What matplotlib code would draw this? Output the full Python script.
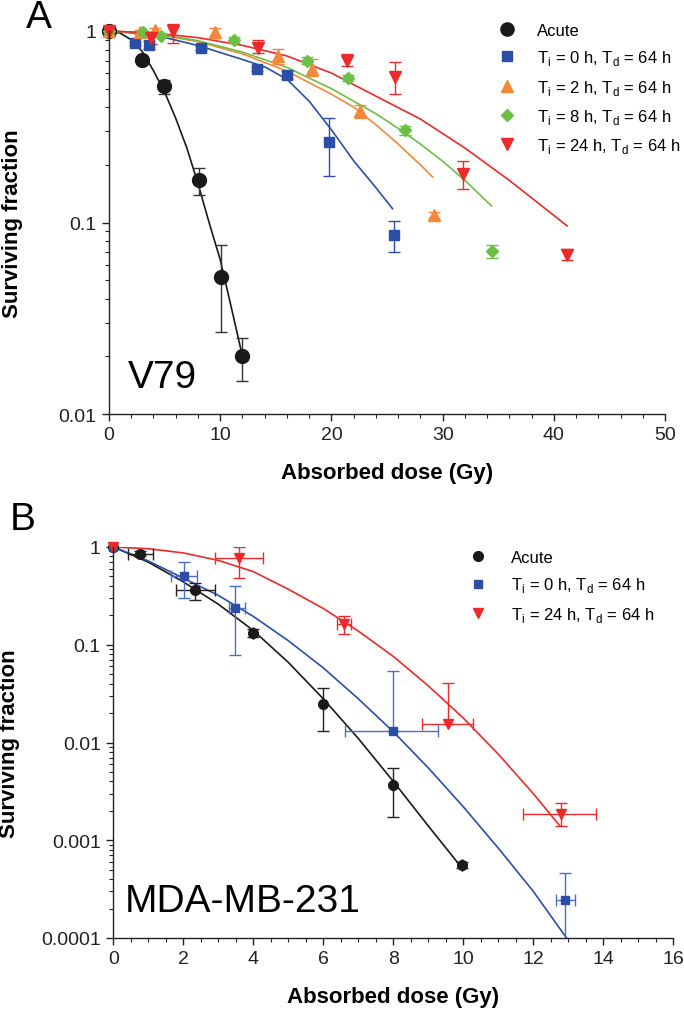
import matplotlib
matplotlib.use("Agg")
import matplotlib.pyplot as plt
from matplotlib.ticker import MultipleLocator, LogLocator, NullFormatter
from matplotlib.lines import Line2D

plt.rcParams['font.family'] = ['Liberation Sans', 'DejaVu Sans']
plt.rcParams['mathtext.fontset'] = 'custom'
plt.rcParams['mathtext.rm'] = 'Liberation Sans'

# colours
BLACK = '#1a1a1a'
BLUE = '#2b4fa6'
ORANGE = '#f4883a'
GREEN = '#6cbf45'
RED = '#ec2a2a'

# ---------- panel A (V79) data ----------
a_acute_dose = [0, 2.95, 4.97, 8.06, 10.04, 12.0]
a_acute_sf = [1.0, 0.706, 0.518, 0.167, 0.052, 0.020]
a_acute_lo = [1.0, 0.68, 0.47, 0.139, 0.0267, 0.0149]
a_acute_hi = [1.0, 0.73, 0.557, 0.193, 0.076, 0.0249]

a_t0_dose = [0, 2.34, 3.6, 8.3, 13.3, 16.0, 19.8, 25.6]
a_t0_sf = [1.0, 0.866, 0.848, 0.815, 0.63, 0.59, 0.262, 0.086]
a_t0_lo = [1.0, 0.85, 0.81, 0.80, 0.615, 0.56, 0.174, 0.070]
a_t0_hi = [1.0, 0.88, 0.89, 0.83, 0.645, 0.62, 0.35, 0.102]

a_t2_dose = [0, 2.8, 4.1, 9.5, 15.2, 18.3, 22.6, 29.2]
a_t2_sf = [1.0, 0.99, 1.01, 0.985, 0.74, 0.63, 0.38, 0.109]
a_t2_lo = [1.0, 0.97, 0.98, 0.92, 0.67, 0.585, 0.35, 0.105]
a_t2_hi = [1.0, 1.01, 1.04, 1.04, 0.81, 0.71, 0.41, 0.113]

a_t8_dose = [0, 3.1, 4.7, 11.2, 17.8, 21.5, 26.6, 34.4]
a_t8_sf = [1.0, 0.985, 0.945, 0.90, 0.70, 0.57, 0.304, 0.071]
a_t8_lo = [1.0, 0.97, 0.93, 0.87, 0.67, 0.55, 0.285, 0.065]
a_t8_hi = [1.0, 1.0, 0.96, 0.93, 0.73, 0.59, 0.32, 0.076]

a_t24_dose = [0, 3.8, 5.8, 13.4, 21.4, 25.7, 31.8, 41.2]
a_t24_sf = [1.0, 0.915, 1.0, 0.82, 0.70, 0.573, 0.179, 0.068]
a_t24_lo = [1.0, 0.86, 0.87, 0.77, 0.66, 0.47, 0.15, 0.064]
a_t24_hi = [1.0, 0.96, 1.09, 0.90, 0.76, 0.69, 0.21, 0.073]

# fitted curves
a_acute_fit_d = [0, 1, 2, 3, 4, 5, 6, 7, 8, 9, 10, 11, 12]
a_acute_fit_sf = [1, 0.975, 0.90, 0.78, 0.62, 0.48, 0.35, 0.245, 0.16, 0.10, 0.064, 0.036, 0.020]
a_t0_fit_d = [0, 4, 8, 12, 14, 16, 18, 20, 22, 24, 25.5]
a_t0_fit_sf = [1, 0.955, 0.84, 0.71, 0.65, 0.56, 0.43, 0.305, 0.21, 0.152, 0.118]
a_t2_fit_d = [0, 4, 8, 12, 16, 20, 22, 24, 26, 28, 29.1]
a_t2_fit_sf = [1, 0.966, 0.88, 0.76, 0.617, 0.468, 0.40, 0.324, 0.257, 0.20, 0.173]
a_t8_fit_d = [0, 4, 8, 12, 16, 20, 24, 26, 28, 30, 32, 34.4]
a_t8_fit_sf = [1, 0.973, 0.89, 0.776, 0.646, 0.50, 0.37, 0.31, 0.257, 0.209, 0.166, 0.122]
a_t24_fit_d = [0, 4, 8, 12, 16, 20, 24, 28, 32, 36, 41.2]
a_t24_fit_sf = [1, 0.977, 0.923, 0.841, 0.741, 0.603, 0.457, 0.347, 0.245, 0.166, 0.096]

# ---------- panel B (MDA-MB-231) data ----------
b_acute_dose = [0, 0.76, 2.34, 3.98, 5.98, 7.98, 9.96]
b_acute_sf = [1.0, 0.85, 0.366, 0.132, 0.0248, 0.00368, 0.00056]
b_acute_lo = [1.0, 0.80, 0.29, 0.12, 0.0131, 0.00171, 0.00052]
b_acute_hi = [1.0, 0.90, 0.43, 0.145, 0.036, 0.0055, 0.0006]
b_acute_xlo = [0, 0.43, 1.79, 3.98, 5.98, 7.98, 9.96]
b_acute_xhi = [0, 1.13, 2.9, 3.98, 5.98, 7.98, 9.96]

b_t0_dose = [0, 2.02, 3.49, 7.98, 12.9]
b_t0_sf = [1.0, 0.50, 0.236, 0.013, 0.000242]
b_t0_lo = [1.0, 0.30, 0.079, 0.013, 0.00001]
b_t0_hi = [1.0, 0.70, 0.40, 0.054, 0.00046]
b_t0_xlo = [0, 1.64, 3.3, 6.62, 12.65]
b_t0_xhi = [0, 2.4, 3.77, 9.29, 13.2]

b_t24_dose = [0, 3.6, 6.59, 9.55, 12.78]
b_t24_sf = [1.0, 0.77, 0.163, 0.0155, 0.00186]
b_t24_lo = [1.0, 0.48, 0.13, 0.0155, 0.0014]
b_t24_hi = [1.0, 1.0, 0.195, 0.041, 0.0024]
b_t24_xlo = [0, 2.9, 6.4, 8.81, 11.71]
b_t24_xhi = [0, 4.29, 6.78, 10.27, 13.79]

b_acute_fit_d = [0, 1, 2, 3, 4, 5, 6, 7, 8, 9, 10]
b_acute_fit_sf = [1, 0.70, 0.44, 0.26, 0.14, 0.066, 0.028, 0.011, 0.0040, 0.0014, 0.0005]
b_t0_fit_d = [0, 1, 2, 3, 4, 5, 6, 7, 8, 9, 10, 11, 12, 12.95]
b_t0_fit_sf = [1, 0.72, 0.48, 0.32, 0.195, 0.11, 0.058, 0.028, 0.0129, 0.0055, 0.0022, 0.00083, 0.0003, 0.0001]
b_t24_fit_d = [0, 1, 2, 3, 4, 5, 6, 7, 8, 9, 10, 11, 12, 12.76]
b_t24_fit_sf = [1, 0.96, 0.87, 0.73, 0.56, 0.37, 0.235, 0.138, 0.076, 0.038, 0.0178, 0.0076, 0.0030, 0.0014]

lab_t0 = r'T$_\mathregular{i}$ = 0 h, T$_\mathregular{d}$ = 64 h'
lab_t2 = r'T$_\mathregular{i}$ = 2 h, T$_\mathregular{d}$ = 64 h'
lab_t8 = r'T$_\mathregular{i}$ = 8 h, T$_\mathregular{d}$ = 64 h'
lab_t24 = r'T$_\mathregular{i}$ = 24 h, T$_\mathregular{d}$ = 64 h'


def yerr(sf, lo, hi):
    return [[s - l for s, l in zip(sf, lo)], [h - s for s, h in zip(sf, hi)]]


def xerr(d, lo, hi):
    return [[x - l for x, l in zip(d, lo)], [h - x for x, h in zip(d, hi)]]


def style_axes(ax):
    ax.set_yscale('log')
    for s in ['top', 'right']:
        ax.spines[s].set_visible(False)
    for s in ['left', 'bottom']:
        ax.spines[s].set_linewidth(1.0)
        ax.spines[s].set_color('#222222')
    ax.tick_params(which='major', direction='out', length=5, width=1, labelsize=14, pad=4, colors='#222222')
    ax.tick_params(which='minor', direction='out', length=3, width=0.8, colors='#222222')
    ax.yaxis.set_minor_locator(LogLocator(base=10, subs=range(2, 10)))
    ax.yaxis.set_minor_formatter(NullFormatter())
    ax.set_ylabel('Surviving fraction', fontsize=16, fontweight='bold')
    ax.set_xlabel('Absorbed dose (Gy)', fontsize=16, fontweight='bold', labelpad=13)


fig = plt.figure(figsize=(6.84, 10.2), dpi=100)

# ================= Panel A =================
axA = fig.add_axes([109 / 684, 1 - 415 / 1020, 556 / 684, 383 / 1020])
style_axes(axA)
axA.set_xlim(0, 50)
axA.set_ylim(0.01, 1.0)
axA.xaxis.set_major_locator(MultipleLocator(10))
axA.xaxis.set_minor_locator(MultipleLocator(2))
axA.set_yticks([0.01, 0.1, 1])
axA.set_yticklabels(['0.01', '0.1', '1'])
axA.yaxis.set_label_coords(-0.155, 0.5)

axA.plot(a_acute_fit_d, a_acute_fit_sf, color=BLACK, lw=1.2, clip_on=False)
axA.plot(a_t0_fit_d, a_t0_fit_sf, color=BLUE, lw=1.2, clip_on=False)
axA.plot(a_t2_fit_d, a_t2_fit_sf, color=ORANGE, lw=1.2, clip_on=False)
axA.plot(a_t8_fit_d, a_t8_fit_sf, color=GREEN, lw=1.2, clip_on=False)
axA.plot(a_t24_fit_d, a_t24_fit_sf, color=RED, lw=1.2, clip_on=False)

setsA = [
    (a_acute_dose, a_acute_sf, a_acute_lo, a_acute_hi, BLACK, '#333333', 'o', 10),
    (a_t0_dose, a_t0_sf, a_t0_lo, a_t0_hi, BLUE, BLUE, 's', 6.5),
    (a_t2_dose, a_t2_sf, a_t2_lo, a_t2_hi, ORANGE, ORANGE, '^', 8),
    (a_t8_dose, a_t8_sf, a_t8_lo, a_t8_hi, GREEN, GREEN, 'D', 6.5),
    (a_t24_dose, a_t24_sf, a_t24_lo, a_t24_hi, RED, RED, 'v', 8),
]
for d, sf, lo, hi, c, ec, m, ms in setsA:
    eb = axA.errorbar(d, sf, yerr=yerr(sf, lo, hi), fmt=m, color=c, ecolor=ec,
                      ms=ms, mec=c, elinewidth=1.0, capsize=4.5, capthick=1.0, clip_on=False)
    for art in eb.get_children():
        art.set_clip_on(False)

handlesA = [
    Line2D([], [], ls='none', marker='o', color=BLACK, ms=9.5),
    Line2D([], [], ls='none', marker='s', color=BLUE, ms=6.5),
    Line2D([], [], ls='none', marker='^', color=ORANGE, ms=8),
    Line2D([], [], ls='none', marker='D', color=GREEN, ms=6.5),
    Line2D([], [], ls='none', marker='v', color=RED, ms=8),
]
axA.legend(handlesA, ['Acute', lab_t0, lab_t2, lab_t8, lab_t24], loc='upper left',
           bbox_to_anchor=(0.701, 1.021), frameon=False, fontsize=12, handlelength=1.0,
           handletextpad=1.3, labelspacing=0.62, borderpad=0, borderaxespad=0)
axA.text(0.034, 0.07, 'V79', transform=axA.transAxes, fontsize=28, va='baseline', ha='left')

# ================= Panel B =================
axB = fig.add_axes([113.3 / 684, 1 - 939 / 1020, 560 / 684, 391 / 1020])
style_axes(axB)
axB.set_xlim(0, 16)
axB.set_ylim(0.0001, 1.0)
axB.xaxis.set_major_locator(MultipleLocator(2))
axB.xaxis.set_minor_locator(MultipleLocator(0.5))
axB.set_yticks([0.0001, 0.001, 0.01, 0.1, 1])
axB.set_yticklabels(['0.0001', '0.001', '0.01', '0.1', '1'])
axB.yaxis.set_label_coords(-0.167, 0.5)

axB.plot(b_acute_fit_d, b_acute_fit_sf, color=BLACK, lw=1.2)
axB.plot(b_t0_fit_d, b_t0_fit_sf, color=BLUE, lw=1.2)
axB.plot(b_t24_fit_d, b_t24_fit_sf, color=RED, lw=1.2)

setsB = [
    (b_acute_dose, b_acute_sf, b_acute_lo, b_acute_hi, b_acute_xlo, b_acute_xhi, BLACK, '#222222', 'o', 7),
    (b_t0_dose, b_t0_sf, b_t0_lo, b_t0_hi, b_t0_xlo, b_t0_xhi, BLUE, '#4a6fc4', 's', 6),
    (b_t24_dose, b_t24_sf, b_t24_lo, b_t24_hi, b_t24_xlo, b_t24_xhi, RED, RED, 'v', 7),
]
for d, sf, lo, hi, xl, xh, c, ec, m, ms in setsB:
    eb = axB.errorbar(d, sf, yerr=yerr(sf, lo, hi), xerr=xerr(d, xl, xh), fmt=m, color=c,
                      ecolor=ec, ms=ms, mec=c, elinewidth=1.0, capsize=4.5, capthick=1.0)
    eb[0].set_clip_on(False)

handlesB = [
    Line2D([], [], ls='none', marker='o', color=BLACK, ms=7),
    Line2D([], [], ls='none', marker='s', color=BLUE, ms=6),
    Line2D([], [], ls='none', marker='v', color=RED, ms=7),
]
axB.legend(handlesB, ['Acute', lab_t0, lab_t24], loc='upper left',
           bbox_to_anchor=(0.636, 0.992), frameon=False, fontsize=12, handlelength=1.0,
           handletextpad=1.5, labelspacing=0.62, borderpad=0, borderaxespad=0)
axB.text(0.02, 0.07, 'MDA-MB-231', transform=axB.transAxes, fontsize=28, va='baseline', ha='left')

fig.text(26 / 684, 1 - 28 / 1020, 'A', fontsize=28, va='baseline', ha='left')
fig.text(10 / 684, 1 - 530 / 1020, 'B', fontsize=28, va='baseline', ha='left')

fig.savefig('out.png', dpi=100)
